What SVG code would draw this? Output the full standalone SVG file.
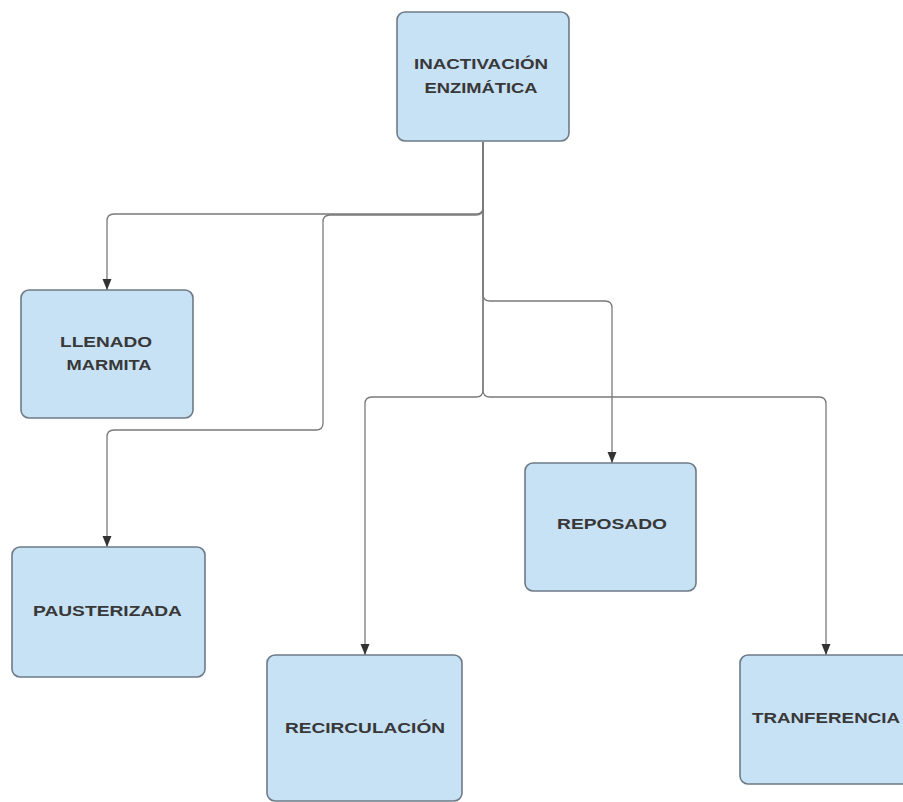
<svg xmlns="http://www.w3.org/2000/svg" width="903" height="802" viewBox="0 0 903 802">
  <style>
    .box { fill: #c7e1f5; stroke: #6e7b87; stroke-width: 1.6; }
    .lbl { font-family: "Liberation Sans", Arial, sans-serif; font-weight: bold; font-size: 15.5px; fill: #383838; text-anchor: middle; }
    .wire { fill: none; stroke: #7a7a7a; stroke-width: 1.3; }
  </style>
  <defs>
    <marker id="arrow" markerWidth="12" markerHeight="13" refX="6" refY="12" orient="0" markerUnits="userSpaceOnUse">
      <path d="M1.5,1 L10.5,1 L6,12 Z" fill="#333"/>
    </marker>
  </defs>
  <rect width="903" height="802" fill="#ffffff"/>

  <g id="connectors">
    <path class="wire" d="M483,142 V207 Q483,214 476,214 H114 Q107,214 107,221 V290" marker-end="url(#arrow)"/>
    <path class="wire" d="M483,142 V208 Q483,215 476,215 H330 Q323,215 323,222 V423 Q323,430 316,430 H114 Q107,430 107,437 V547" marker-end="url(#arrow)"/>
    <path class="wire" d="M483,142 V390 Q483,397 476,397 H372 Q365,397 365,404 V655" marker-end="url(#arrow)"/>
    <path class="wire" d="M483,142 V294 Q483,301 490,301 H605 Q612,301 612,308 V463" marker-end="url(#arrow)"/>
    <path class="wire" d="M483,142 V390 Q483,397 490,397 H819 Q826,397 826,404 V655" marker-end="url(#arrow)"/>
  </g>

  <g id="inactivacion">
    <rect class="box" x="397" y="12" width="172" height="129" rx="8"/>
    <text class="lbl" x="481" y="68.5" textLength="134" lengthAdjust="spacingAndGlyphs">INACTIVACIÓN</text>
    <text class="lbl" x="481" y="92.5" textLength="113" lengthAdjust="spacingAndGlyphs">ENZIMÁTICA</text>
  </g>

  <g id="llenado">
    <rect class="box" x="21" y="290" width="172" height="128" rx="8"/>
    <text class="lbl" x="106" y="346.5" textLength="92" lengthAdjust="spacingAndGlyphs">LLENADO</text>
    <text class="lbl" x="109" y="369.5" textLength="85" lengthAdjust="spacingAndGlyphs">MARMITA</text>
  </g>

  <g id="pausterizada">
    <rect class="box" x="12" y="547" width="193" height="130" rx="8"/>
    <text class="lbl" x="107.5" y="615.5" textLength="149" lengthAdjust="spacingAndGlyphs">PAUSTERIZADA</text>
  </g>

  <g id="recirculacion">
    <rect class="box" x="267" y="655" width="195" height="146" rx="8"/>
    <text class="lbl" x="365" y="732.5" textLength="160" lengthAdjust="spacingAndGlyphs">RECIRCULACIÓN</text>
  </g>

  <g id="reposado">
    <rect class="box" x="525" y="463" width="171" height="128" rx="8"/>
    <text class="lbl" x="612" y="528.5" textLength="110" lengthAdjust="spacingAndGlyphs">REPOSADO</text>
  </g>

  <g id="tranferencia">
    <rect class="box" x="740" y="655" width="175" height="129" rx="8"/>
    <text class="lbl" x="826" y="722.5" textLength="148" lengthAdjust="spacingAndGlyphs">TRANFERENCIA</text>
  </g>
</svg>
